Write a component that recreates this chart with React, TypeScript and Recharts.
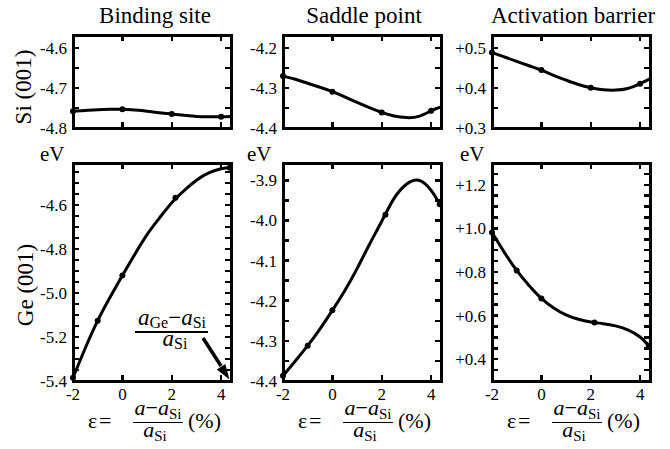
import { ComposedChart, Line, Scatter, XAxis, YAxis } from "recharts";

const FONT = "'Liberation Serif', 'Times New Roman', serif";

// strain axis, in %
const strainDomain = [-2, 4.4];
const strainLabelTicks = [-2, 0, 2, 4];
const strainFrameTicks = [0, 2, 4];
const fitStrain = [-2, -1.5, -1, -0.5, 0, 0.5, 1, 1.5, 2, 2.5, 3, 3.5, 4, 4.4];
const siStrain = [-2, 0, 2, 4];
const geStrain = [-2, -1, 0, 2.15, 4.35];

// Si(001), eV
const siBindingDots = [-4.758, -4.753, -4.765, -4.772];
const siBindingFit = [-4.758, -4.756, -4.754, -4.753, -4.753, -4.755, -4.758, -4.762, -4.765, -4.768, -4.771, -4.772, -4.772, -4.771];
const siSaddleDots = [-4.27, -4.309, -4.361, -4.357];
const siSaddleFit = [-4.27, -4.278, -4.288, -4.298, -4.309, -4.322, -4.336, -4.349, -4.361, -4.37, -4.374, -4.371, -4.357, -4.347];
const siBarrierDots = [0.489, 0.445, 0.401, 0.411];
const siBarrierFit = [0.489, 0.478, 0.467, 0.456, 0.445, 0.432, 0.42, 0.409, 0.401, 0.396, 0.395, 0.399, 0.411, 0.423];

// Ge(001), eV
const geBindingDots = [-5.385, -5.126, -4.921, -4.568, -4.432];
const geBindingFit = [-5.385, -5.25, -5.126, -5.02, -4.921, -4.825, -4.735, -4.66, -4.59, -4.535, -4.488, -4.455, -4.436, -4.43];
const geSaddleDots = [-4.387, -4.312, -4.224, -3.986, -3.96];
const geSaddleFit = [-4.387, -4.35, -4.312, -4.27, -4.224, -4.175, -4.12, -4.06, -4.002, -3.945, -3.91, -3.9, -3.925, -3.965];
const geBarrierDots = [0.981, 0.807, 0.679, 0.568, 0.462];
const geBarrierFit = [0.981, 0.89, 0.807, 0.738, 0.679, 0.635, 0.603, 0.583, 0.571, 0.563, 0.553, 0.535, 0.502, 0.455];

// energy ticks: labelled ones, and every tick mark on the frame
const siBindingTicks = [-4.8, -4.7, -4.6];
const siBindingMinor = [-4.75, -4.7, -4.65, -4.6];
const siSaddleTicks = [-4.4, -4.3, -4.2];
const siSaddleMinor = [-4.35, -4.3, -4.25, -4.2];
const siBarrierTicks = [0.3, 0.4, 0.5];
const siBarrierMinor = [0.35, 0.4, 0.45, 0.5];
const geBindingTicks = [-5.4, -5.2, -5.0, -4.8, -4.6];
const geBindingMinor = [-5.35, -5.3, -5.25, -5.2, -5.15, -5.1, -5.05, -5.0, -4.95, -4.9, -4.85, -4.8, -4.75, -4.7, -4.65, -4.6, -4.55, -4.5, -4.45];
const geSaddleTicks = [-4.4, -4.3, -4.2, -4.1, -4.0, -3.9];
const geSaddleMinor = [-4.35, -4.3, -4.25, -4.2, -4.15, -4.1, -4.05, -4.0, -3.95, -3.9];
const geBarrierTicks = [0.4, 0.6, 0.8, 1.0, 1.2];
const geBarrierMinor = [0.35, 0.4, 0.45, 0.5, 0.55, 0.6, 0.65, 0.7, 0.75, 0.8, 0.85, 0.9, 0.95, 1.0, 1.05, 1.1, 1.15, 1.2, 1.25];

const columnTitles = ["Binding site", "Saddle point", "Activation barrier"];
const rowTitles = ["Si (001)", "Ge (001)"];

const zip = (xs: number[], ys: number[]) => xs.map((x, i) => ({ x, y: ys[i] }));
const plain = (v: number) => v.toFixed(1);
const signed = (v: number) => "+" + v.toFixed(1);

const COLS = [73, 283, 492];
const PLOT_W = 158;
const TOP_ROW = { top: 35, h: 93 };
const BOTTOM_ROW = { top: 163, h: 218 };
const MARK = 6; // tick length inside the frame
const EDGE = 3; // frame thickness
const TICK_T = 2.5; // tick thickness

const labelStyle = { fill: "#000", fontSize: 17, fontFamily: FONT };
const dot = (p: any) => <circle cx={p.cx} cy={p.cy} r={3} fill="#000" />;

type PanelProps = {
  left: number;
  top: number;
  plotH: number;
  domain: number[];
  ticks: number[];
  minor: number[];
  format: (v: number) => string;
  fit: { x: number; y: number }[];
  dots: { x: number; y: number }[];
  strainLabels: boolean;
};

function Panel({ left, top, plotH, domain, ticks, format, fit, dots, strainLabels }: PanelProps) {
  const yw = 50;
  const mt = 8;
  const mr = 8;
  const xh = 30;
  const mb = strainLabels ? 0 : 12;
  const width = yw + PLOT_W + mr;
  const height = mt + plotH + mb + (strainLabels ? xh : 0);
  return (
    <div style={{ position: "absolute", left: left - yw, top: top - mt }}>
      <ComposedChart width={width} height={height} margin={{ top: mt, right: mr, bottom: mb, left: 0 }}>
        <XAxis
          xAxisId="x"
          dataKey="x"
          type="number"
          domain={strainDomain}
          ticks={strainLabelTicks}
          interval={0}
          hide={!strainLabels}
          height={xh}
          axisLine={false}
          tickLine={false}
          tickSize={0}
          tickMargin={7}
          tick={labelStyle}
        />
        <YAxis
          yAxisId="y"
          dataKey="y"
          type="number"
          domain={domain}
          ticks={ticks}
          interval={0}
          width={yw}
          axisLine={false}
          tickLine={false}
          tickSize={0}
          tickMargin={6}
          tick={labelStyle}
          tickFormatter={format}
        />
        <Line xAxisId="x" yAxisId="y" data={fit} dataKey="y" type="natural" stroke="#000" strokeWidth={3} dot={false} activeDot={false} isAnimationActive={false} />
        <Scatter xAxisId="x" yAxisId="y" data={dots} dataKey="y" shape={dot} isAnimationActive={false} />
      </ComposedChart>
    </div>
  );
}

const block = (left: number, top: number, width: number, height: number) => ({
  position: "absolute" as const,
  left,
  top,
  width,
  height,
  background: "#000",
});

// box round a panel with short inward tick marks, as plain HTML boxes
function Frame({ left, top, plotH, domain, minor }: PanelProps) {
  const right = left + PLOT_W;
  const bottom = top + plotH;
  const px = (v: number) => left + (PLOT_W * (v - strainDomain[0])) / (strainDomain[1] - strainDomain[0]);
  const py = (v: number) => top + (plotH * (domain[1] - v)) / (domain[1] - domain[0]);
  const h = EDGE / 2;
  return (
    <>
      <div
        style={{
          position: "absolute",
          left: left - h,
          top: top - h,
          width: PLOT_W + EDGE,
          height: plotH + EDGE,
          border: `${EDGE}px solid #000`,
          boxSizing: "border-box",
        }}
      />
      {minor.map((v) => (
        <div key={`l${v}`} style={block(left, py(v) - TICK_T / 2, MARK, TICK_T)} />
      ))}
      {minor.map((v) => (
        <div key={`r${v}`} style={block(right - MARK, py(v) - TICK_T / 2, MARK, TICK_T)} />
      ))}
      {strainFrameTicks.map((v) => (
        <div key={`t${v}`} style={block(px(v) - TICK_T / 2, top, TICK_T, MARK)} />
      ))}
      {strainFrameTicks.map((v) => (
        <div key={`b${v}`} style={block(px(v) - TICK_T / 2, bottom - MARK, TICK_T, MARK)} />
      ))}
    </>
  );
}

function StrainLabel({ left }: { left: number }) {
  return (
    <g>
      <text x={left + 15} y={428} fontSize={22}>ε</text>
      <text x={left + 26} y={428} fontSize={22}>=</text>
      <text x={left + 85} y={415} fontSize={22} textAnchor="middle">
        <tspan fontStyle="italic">a</tspan>
        <tspan>−</tspan>
        <tspan fontStyle="italic">a</tspan>
        <tspan fontSize={15} dy={4}>Si</tspan>
      </text>
      <text x={left + 82} y={437} fontSize={22} textAnchor="middle">
        <tspan fontStyle="italic">a</tspan>
        <tspan fontSize={15} dy={4}>Si</tspan>
      </text>
      <text x={left + 115} y={428} fontSize={22}>(%)</text>
    </g>
  );
}

export default function App() {
  const rows = [
    {
      ...TOP_ROW,
      strainLabels: false,
      panels: [
        { domain: [-4.8, -4.567], ticks: siBindingTicks, minor: siBindingMinor, format: plain, fit: zip(fitStrain, siBindingFit), dots: zip(siStrain, siBindingDots) },
        { domain: [-4.4, -4.167], ticks: siSaddleTicks, minor: siSaddleMinor, format: plain, fit: zip(fitStrain, siSaddleFit), dots: zip(siStrain, siSaddleDots) },
        { domain: [0.3, 0.533], ticks: siBarrierTicks, minor: siBarrierMinor, format: signed, fit: zip(fitStrain, siBarrierFit), dots: zip(siStrain, siBarrierDots) },
      ],
    },
    {
      ...BOTTOM_ROW,
      strainLabels: true,
      panels: [
        { domain: [-5.4, -4.41], ticks: geBindingTicks, minor: geBindingMinor, format: plain, fit: zip(fitStrain, geBindingFit), dots: zip(geStrain, geBindingDots) },
        { domain: [-4.4, -3.857], ticks: geSaddleTicks, minor: geSaddleMinor, format: plain, fit: zip(fitStrain, geSaddleFit), dots: zip(geStrain, geSaddleDots) },
        { domain: [0.3, 1.3], ticks: geBarrierTicks, minor: geBarrierMinor, format: signed, fit: zip(fitStrain, geBarrierFit), dots: zip(geStrain, geBarrierDots) },
      ],
    },
  ];

  const panels = rows.flatMap((row) =>
    row.panels.map((p, c) => ({ ...p, left: COLS[c], top: row.top, plotH: row.h, strainLabels: row.strainLabels }))
  );

  return (
    <div style={{ position: "absolute", left: 0, top: 0, width: 670, height: 449, background: "#fff", fontFamily: FONT }}>
      {panels.map((p, i) => (
        <Panel key={i} {...p} />
      ))}
      <svg width={670} height={449} style={{ position: "absolute", left: 0, top: 0, pointerEvents: "none", fontFamily: FONT }} fill="#000">
        <text x={155} y={23} fontSize={23} textAnchor="middle">{columnTitles[0]}</text>
        <text x={364} y={23} fontSize={23} textAnchor="middle">{columnTitles[1]}</text>
        <text x={573} y={23} fontSize={23} textAnchor="middle">{columnTitles[2]}</text>
        <text transform="translate(31,87) rotate(-90)" fontSize={23} textAnchor="middle">{rowTitles[0]}</text>
        <text transform="translate(33,285) rotate(-90)" fontSize={23} textAnchor="middle">{rowTitles[1]}</text>
        <text x={40} y={161} fontSize={21}>eV</text>
        <text x={247} y={161} fontSize={21}>eV</text>
        <text x={460} y={161} fontSize={21}>eV</text>
        {COLS.map((l) => (
          <StrainLabel key={l} left={l} />
        ))}
        <text x={172} y={325} fontSize={23} textAnchor="middle">
          <tspan fontStyle="italic">a</tspan>
          <tspan fontSize={16} dy={3}>Ge</tspan>
          <tspan dy={-3}>−</tspan>
          <tspan fontStyle="italic">a</tspan>
          <tspan fontSize={16} dy={3}>Si</tspan>
        </text>
        <text x={175} y={346} fontSize={23} textAnchor="middle">
          <tspan fontStyle="italic">a</tspan>
          <tspan fontSize={16} dy={3}>Si</tspan>
        </text>
        <polygon points="201.5,339 204.5,337 222.5,365 219.5,367" />
        <polygon points="229.5,379.5 216.8,369.4 225.3,364" />
      </svg>
      {panels.map((p, i) => (
        <Frame key={`f${i}`} {...p} />
      ))}
      {COLS.map((l) => (
        <div key={`bar${l}`} style={block(l + 60, 421.8, 50, 1.5)} />
      ))}
      <div style={block(135, 331.2, 73, 1.5)} />
    </div>
  );
}
